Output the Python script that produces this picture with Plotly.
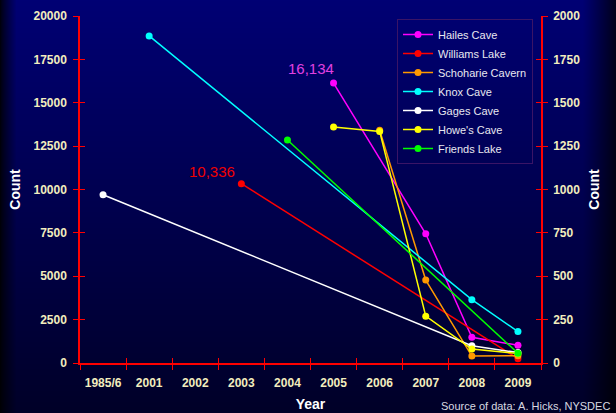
import base64
import struct
import zlib

import plotly.graph_objects as go

# ---- data -------------------------------------------------------------
years = ["1985/6", "2001", "2002", "2003", "2004", "2005",
         "2006", "2007", "2008", "2009"]

hailes_years = ["2005", "2007", "2008", "2009"]
hailes = [16134, 7450, 1480, 1020]

williams_years = ["2003", "2009"]
williams = [10336, 250]

schoharie_years = ["2006", "2007", "2008", "2009"]
schoharie = [13420, 4780, 400, 420]

knox_years = ["2001", "2008", "2009"]
knox = [18850, 3650, 1810]

gages_years = ["1985/6", "2008", "2009"]
gages = [9700, 1000, 600]

howes_years = ["2005", "2006", "2007", "2008", "2009"]
howes = [13600, 13350, 2700, 800, 550]

friends_years = ["2004", "2009"]
friends = [12850, 560]

left_ticks = [0, 2500, 5000, 7500, 10000, 12500, 15000, 17500, 20000]
right_ticks = [0, 250, 500, 750, 1000, 1250, 1500, 1750, 2000]

# ---- page geometry ----------------------------------------------------
W, H = 616, 413
ML, MR, MT, MB = 80, 75, 16, 50
PW, PH = W - ML - MR, H - MT - MB

FONT = "Arial, Liberation Sans, sans-serif"
TICK_COLOR = "#F2EDBE"
AXIS_RED = "#FF0000"


def background_png(w, h):
    """Navy gradient, darker toward the bottom and the side edges."""
    rows = []
    for y in range(h):
        t = y / (h - 1)
        base = 116 * (1 - t) + 40 * t
        row = bytearray([0])
        for x in range(w):
            f = 1.0
            if x < 16:
                f = 0.12 + 0.88 * (x / 16) ** 0.8
            elif x > 582:
                f = 1.0 - 0.78 * ((x - 582) / (w - 582)) ** 1.1
            b = int(max(0, min(255, base * f)))
            row += bytes((0, 0, b))
        rows.append(bytes(row))
    raw = b"".join(rows)

    def chunk(tag, data):
        c = struct.pack(">I", len(data)) + tag + data
        return c + struct.pack(">I", zlib.crc32(tag + data) & 0xFFFFFFFF)

    png = b"\x89PNG\r\n\x1a\n"
    png += chunk(b"IHDR", struct.pack(">IIBBBBB", w, h, 8, 2, 0, 0, 0))
    png += chunk(b"IDAT", zlib.compress(raw, 9))
    png += chunk(b"IEND", b"")
    return "data:image/png;base64," + base64.b64encode(png).decode()


series = [
    ("Hailes Cave", hailes_years, hailes, "#FF00FF"),
    ("Williams Lake", williams_years, williams, "#FF0000"),
    ("Schoharie Cavern", schoharie_years, schoharie, "#FF9900"),
    ("Knox Cave", knox_years, knox, "#00FFFF"),
    ("Gages Cave", gages_years, gages, "#FFFFFF"),
    ("Howe's Cave", howes_years, howes, "#FFFF00"),
    ("Friends Lake", friends_years, friends, "#00FF00"),
]

fig = go.Figure()

# empty traces so the secondary scale and the inner tick axes are drawn
for xa, ya in [("x", "y2"), ("x2", "y"), ("x", "y3"), ("x", "y4")]:
    fig.add_trace(go.Scatter(x=[], y=[], xaxis=xa, yaxis=ya,
                             showlegend=False, hoverinfo="skip"))

for name, xs, ys, color in series:
    fig.add_trace(go.Scatter(
        x=xs, y=ys, name=name, mode="lines+markers",
        line=dict(color=color, width=1.5),
        marker=dict(color=color, size=7),
        xaxis="x", yaxis="y",
    ))

# value labels on the two peak counts (category axis -> use the index)
fig.add_annotation(x=years.index(hailes_years[0]), y=hailes[0],
                   text=f"{hailes[0]:,}",
                   showarrow=False, xshift=-23, yshift=15,
                   font=dict(family=FONT, size=15, color="#E040E0"))
fig.add_annotation(x=years.index(williams_years[0]), y=williams[0],
                   text=f"{williams[0]:,}",
                   showarrow=False, xshift=-29, yshift=12,
                   font=dict(family=FONT, size=15, color="#F00000"))

fig.add_annotation(text="Source of data: A. Hicks, NYSDEC",
                   xref="paper", yref="paper",
                   x=(W - 4 - ML) / PW, y=-(H - 7 - (MT + PH)) / PH,
                   xanchor="right", yanchor="middle", showarrow=False,
                   font=dict(family=FONT, size=11, color="#D8D8E0"))

tick_font = dict(family=FONT, size=12, color=TICK_COLOR)
title_font = dict(family=FONT, size=14, color="#FFFFFF")
boundaries = [i - 0.5 for i in range(len(years) + 1)]


def bold(vals):
    return [f"<b>{v}</b>" for v in vals]


fig.update_layout(
    width=W, height=H,
    margin=dict(l=ML, r=MR, t=MT, b=MB, autoexpand=False),
    paper_bgcolor="#000048",
    plot_bgcolor="rgba(0,0,0,0)",
    showlegend=True,
    legend=dict(
        x=(397 - ML) / PW, y=(MT + PH - 19) / PH,
        xanchor="left", yanchor="top",
        bgcolor="rgba(0,0,0,0)", bordercolor="#3A1466", borderwidth=1,
        font=dict(family=FONT, size=11, color="#E8E8F0"),
        tracegroupgap=0,
    ),
    xaxis=dict(
        type="category", categoryorder="array", categoryarray=years,
        tickvals=years, ticktext=bold(years),
        range=[-0.5, len(years) - 0.5], tickson="boundaries",
        ticks="outside", ticklen=5, tickcolor=AXIS_RED, tickwidth=1,
        showline=True, linecolor=AXIS_RED, linewidth=1.5,
        showgrid=False, zeroline=False,
        tickfont=tick_font, ticklabelstandoff=8,
        title=dict(text="<b>Year</b>", font=title_font, standoff=10),
    ),
    xaxis2=dict(
        overlaying="x", anchor="y", range=[-0.5, len(years) - 0.5],
        tickvals=boundaries, ticks="inside", ticklen=5,
        tickcolor=AXIS_RED, showticklabels=False, showline=False,
        showgrid=False, zeroline=False,
    ),
    yaxis=dict(
        range=[0, 20000], tickvals=left_ticks, ticktext=bold(left_ticks),
        ticks="outside", ticklen=5, tickcolor=AXIS_RED,
        showline=True, linecolor=AXIS_RED, linewidth=1.5,
        showgrid=False, zeroline=False,
        tickfont=tick_font, ticklabelstandoff=4,
        title=dict(text="<b>Count</b>", font=title_font, standoff=10),
    ),
    yaxis2=dict(
        overlaying="y", side="right", anchor="x",
        range=[0, 2000], tickvals=right_ticks, ticktext=bold(right_ticks),
        ticks="outside", ticklen=5, tickcolor=AXIS_RED,
        showline=True, linecolor=AXIS_RED, linewidth=1.5,
        showgrid=False, zeroline=False,
        tickfont=tick_font, ticklabelstandoff=3,
        title=dict(text="<b>Count</b>", font=title_font, standoff=10),
    ),
    yaxis3=dict(
        overlaying="y", anchor="x", side="left", range=[0, 20000],
        tickvals=left_ticks, ticks="inside", ticklen=5, tickcolor=AXIS_RED,
        showticklabels=False, showline=False, showgrid=False, zeroline=False,
    ),
    yaxis4=dict(
        overlaying="y", anchor="x", side="right", range=[0, 2000],
        tickvals=right_ticks, ticks="inside", ticklen=5, tickcolor=AXIS_RED,
        showticklabels=False, showline=False, showgrid=False, zeroline=False,
    ),
    images=[dict(
        source=background_png(W, H), xref="paper", yref="paper",
        x=-ML / PW, y=(MT + PH) / PH, sizex=W / PW, sizey=H / PH,
        xanchor="left", yanchor="top", sizing="stretch", layer="below",
    )],
)

fig.write_html("out.html")
